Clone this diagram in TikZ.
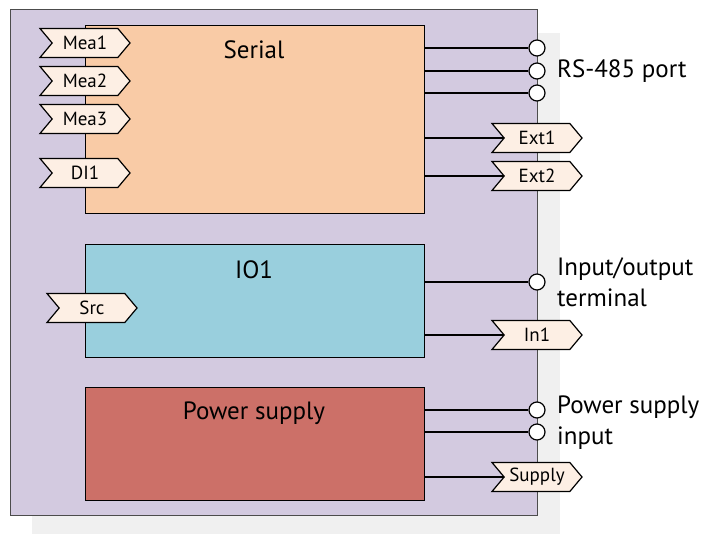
\documentclass[tikz,border=0pt]{standalone}
\usepackage{fontspec}
\setmainfont{PT Sans}
\usepackage{tikz}
\usetikzlibrary{shapes.symbols,positioning}
\definecolor{devpurple}{RGB}{211,202,224}
\definecolor{devshade}{RGB}{240,240,240}
\definecolor{serialfill}{RGB}{249,203,166}
\definecolor{iofill}{RGB}{153,207,221}
\definecolor{powerfill}{RGB}{204,112,104}
\definecolor{tagfill}{RGB}{253,239,228}

\begin{document}
\begin{tikzpicture}[x=1pt, y=-1pt,
  every node/.style={font=\fontsize{25}{31}\selectfont},
  unit/.style={draw=black, line width=1.3pt, anchor=north west, inner sep=0pt, minimum width=339pt},
  tag/.style={signal, signal from=west, signal to=east, signal pointer angle=100, draw=black,
    line width=1.2pt, fill=tagfill, minimum width=90pt, minimum height=29pt, inner sep=0pt,
    font=\fontsize{19}{21}\selectfont},
  term/.style={circle, draw=black, fill=white, line width=1.2pt, minimum size=16pt, inner sep=0pt},
  wire/.style={line width=1.2pt},
  lab/.style={anchor=west, align=left, inner sep=0pt}
]
  \useasboundingbox (0,0) rectangle (709,534);
  \def\edgeL{85}\def\edgeR{537}

  % device body
  \fill[devshade] (32,33) rectangle (560,534);
  \draw[fill=devpurple, draw=black!70, line width=1pt] (10,10) rectangle (\edgeR,515);

  % units
  \node[unit, fill=serialfill, minimum height=188pt] (serial) at (\edgeL,25) {};
  \node[unit, fill=iofill, minimum height=113pt] (io) at (\edgeL,244) {};
  \node[unit, fill=powerfill, minimum height=113pt] (power) at (\edgeL,387) {};
  \node (serialname) at (254,50) {Serial};
  \node (ioname) at (254,270) {IO1};
  \node (powername) at (254,413) {Power supply};

  % terminals
  \node[term] (rs1) at (\edgeR,48) {};
  \node[term] (rs2) at (\edgeR,71) {};
  \node[term] (rs3) at (\edgeR,93) {};
  \node[term] (iot) at (\edgeR,282) {};
  \node[term] (pw1) at (\edgeR,410) {};
  \node[term] (pw2) at (\edgeR,432) {};
  \node[lab] (rslab) at (557,71) {RS-485 port};
  \node[lab] (iolab) at (557,282) {Input/output\\terminal};
  \node[lab] (pwlab) at (557,423) {Power supply\\input};

  % wires
  \foreach \t in {rs1,rs2,rs3}
    \draw[wire] (serial.east |- \t) -- (\t.west);
  \draw[wire] (io.east |- iot) -- (iot.west);
  \foreach \t in {pw1,pw2}
    \draw[wire] (power.east |- \t) -- (\t.west);
  \coordinate (ext1pin) at (\edgeR,138);
  \coordinate (ext2pin) at (\edgeR,176);
  \coordinate (in1pin) at (\edgeR,335);
  \coordinate (supplypin) at (\edgeR,477);
  \draw[wire] (serial.east |- ext1pin) -- (ext1pin);
  \draw[wire] (serial.east |- ext2pin) -- (ext2pin);
  \draw[wire] (io.east |- in1pin) -- (in1pin);
  \draw[wire] (power.east |- supplypin) -- (supplypin);

  % tags
  \node[tag] (mea1) at (\edgeL,43) {Mea1};
  \node[tag] (mea2) at (\edgeL,81) {Mea2};
  \node[tag] (mea3) at (\edgeL,119) {Mea3};
  \node[tag] (di1) at (\edgeL,173) {DI1};
  \node[tag] (src) at (92,308) {Src};
  \node[tag] (ext1) at (ext1pin) {Ext1};
  \node[tag] (ext2) at (ext2pin) {Ext2};
  \node[tag] (in1) at (in1pin) {In1};
  \node[tag] (supply) at (supplypin) {Supply};
\end{tikzpicture}
\end{document}
